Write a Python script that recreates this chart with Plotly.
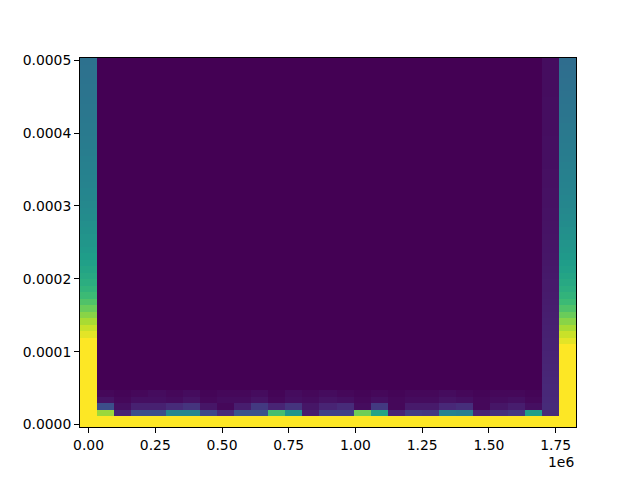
import numpy as np
import plotly.graph_objects as go

# ---- grid coordinates ----
x_centers = np.linspace(0, 1.79424e6, 29)
y_edges = np.concatenate([[-3.4e-6], 1.16e-5 + 8.935e-6 * np.arange(56)])  # 56 rows

# ---- data (normalised intensity, clipped at 1) ----
left_col = [1.0] * 13 + [
    0.96, 0.92, 0.87, 0.82, 0.77, 0.72, 0.68, 0.65, 0.62, 0.60,
    0.58, 0.565, 0.55, 0.535, 0.525, 0.515, 0.505, 0.495, 0.485, 0.475,
    0.468, 0.46, 0.455, 0.45, 0.445, 0.44, 0.435, 0.43, 0.425, 0.42,
    0.415, 0.41, 0.405, 0.40, 0.397, 0.393, 0.39, 0.386, 0.383, 0.38,
    0.377, 0.374, 0.37,
]
right_col = [1.0] * 12 + [
    0.96, 0.92, 0.87, 0.82, 0.77, 0.72, 0.68, 0.65, 0.62, 0.60,
    0.58, 0.565, 0.55, 0.535, 0.525, 0.515, 0.505, 0.495, 0.485, 0.475,
    0.468, 0.46, 0.455, 0.45, 0.445, 0.44, 0.435, 0.43, 0.425, 0.42,
    0.415, 0.41, 0.405, 0.40, 0.395, 0.39, 0.385, 0.38, 0.375, 0.37,
    0.366, 0.362, 0.358, 0.355,
]
penult_col = [1.0, 0.12, 0.12, 0.115, 0.112, 0.11, 0.108, 0.105, 0.103, 0.10,
              0.098, 0.095, 0.093, 0.09, 0.088, 0.085, 0.082, 0.08, 0.077, 0.075,
              0.072, 0.07, 0.067, 0.065, 0.062, 0.06, 0.058, 0.056, 0.054, 0.052,
              0.05, 0.049, 0.048, 0.047, 0.046, 0.045, 0.044, 0.043, 0.042, 0.041,
              0.04, 0.04, 0.039, 0.039, 0.038, 0.038, 0.037, 0.037, 0.036, 0.036,
              0.035, 0.035, 0.035, 0.034, 0.034, 0.034]

row1 = [1.0, 0.85, 0.10, 0.24, 0.24, 0.46, 0.46, 0.22, 0.12, 0.26,
        0.26, 0.70, 0.52, 0.08, 0.20, 0.20, 0.78, 0.58, 0.10, 0.18,
        0.17, 0.45, 0.43, 0.10, 0.14, 0.17, 0.56, 0.12, 1.0]
row2 = [1.0, 0.24, 0.04, 0.09, 0.09, 0.12, 0.15, 0.06, 0.02, 0.08,
        0.17, 0.10, 0.15, 0.06, 0.10, 0.12, 0.03, 0.17, 0.02, 0.07,
        0.07, 0.11, 0.13, 0.02, 0.06, 0.08, 0.04, 0.12, 1.0]
row3 = [1.0, 0.05, 0.02, 0.04, 0.04, 0.03, 0.05, 0.02, 0.03, 0.03,
        0.05, 0.02, 0.04, 0.03, 0.05, 0.04, 0.02, 0.04, 0.02, 0.03,
        0.03, 0.05, 0.04, 0.02, 0.03, 0.04, 0.02, 0.115, 1.0]
row4 = [1.0, 0.02, 0.01, 0.02, 0.03, 0.02, 0.03, 0.01, 0.02, 0.02,
        0.03, 0.01, 0.03, 0.02, 0.03, 0.02, 0.01, 0.02, 0.01, 0.02,
        0.02, 0.03, 0.02, 0.01, 0.02, 0.02, 0.01, 0.112, 1.0]
background = 0.0

n_rows = len(y_edges) - 1
n_cols = len(x_centers)
z = np.full((n_rows, n_cols), background)
z[0, :] = 1.0
z[1, :] = row1
z[2, :] = row2
z[3, :] = row3
z[4, :] = row4
z[:, 0] = left_col
z[:, 27] = penult_col
z[:, 28] = right_col

x_ticks = [0, 250000, 500000, 750000, 1000000, 1250000, 1500000, 1750000]
x_tick_text = ["0.00", "0.25", "0.50", "0.75", "1.00", "1.25", "1.50", "1.75"]
y_ticks = [0, 0.0001, 0.0002, 0.0003, 0.0004, 0.0005]
y_tick_text = ["0.0000", "0.0001", "0.0002", "0.0003", "0.0004", "0.0005"]

dx = x_centers[1] - x_centers[0]

fig = go.Figure(go.Heatmap(
    x=x_centers, y=y_edges, z=z,
    colorscale="Viridis", zmin=0, zmax=1, showscale=False,
    hoverinfo="skip",
))

font = dict(family="DejaVu Sans", size=13.9, color="black")
axis_common = dict(
    showgrid=False, zeroline=False, showline=True, mirror=True,
    linecolor="black", linewidth=1.1, ticks="outside", ticklen=4.9,
    tickwidth=1.1, tickcolor="black", tickfont=font,
)
fig.update_xaxes(range=[x_centers[0] - dx / 2, x_centers[-1] + dx / 2],
                 tickmode="array", tickvals=x_ticks, ticktext=x_tick_text,
                 **axis_common)
fig.update_yaxes(range=[y_edges[0], y_edges[-1]],
                 tickmode="array", tickvals=y_ticks, ticktext=y_tick_text,
                 **axis_common)
fig.add_annotation(text="1e6", xref="paper", yref="paper", x=1.0, y=-0.095,
                   xanchor="right", yanchor="middle", showarrow=False, font=font)
fig.update_layout(
    width=640, height=480,
    margin=dict(l=80, r=64, t=58, b=53, pad=0),
    paper_bgcolor="white", plot_bgcolor="white",
    font=font,
)
fig.write_html("out.html", config={"displayModeBar": False},
               post_script="document.body.style.margin='0';document.body.style.overflow='hidden';")
